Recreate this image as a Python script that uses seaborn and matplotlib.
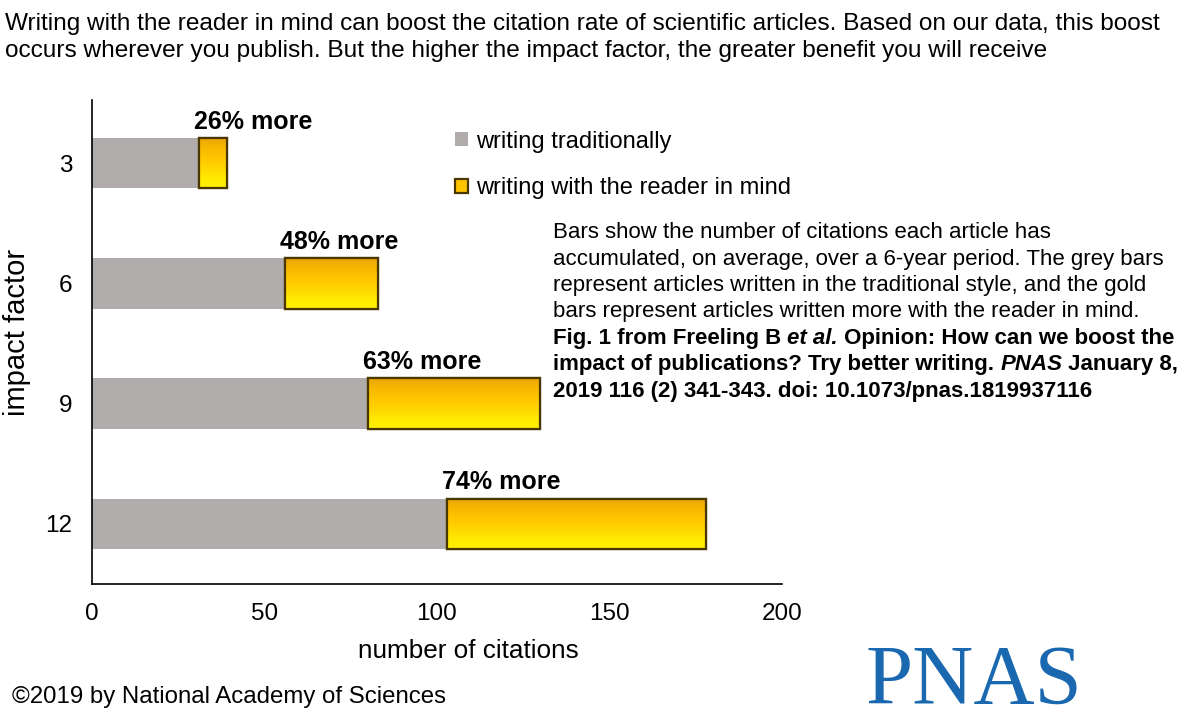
import numpy as np
import pandas as pd
import matplotlib
matplotlib.use("Agg")
import matplotlib.pyplot as plt
import seaborn as sns
from matplotlib.colors import LinearSegmentedColormap
from matplotlib.patches import Rectangle

# ---------------- data ----------------
impact_factor = ["3", "6", "9", "12"]
traditional = [31, 56, 80, 103]
reader_in_mind = [39, 83, 130, 178]
pct_more = [26, 48, 63, 74]
x_ticks = [0, 50, 100, 150, 200]

title_lines = [
    "Writing with the reader in mind can boost the citation rate of scientific articles. Based on our data, this boost",
    "occurs wherever you publish. But the higher the impact factor, the greater benefit you will receive",
]
note_regular = [
    "Bars show the number of citations each article has",
    "accumulated, on average, over a 6-year period. The grey bars",
    "represent articles written in the traditional style, and the gold",
    "bars represent articles written more with the reader in mind.",
]
note_bold = [
    [("Fig. 1 from Freeling B ", "normal"), ("et al.", "italic"), (" Opinion: How can we boost the", "normal")],
    [("impact of publications? Try better writing. ", "normal"), ("PNAS", "italic"), (" January 8,", "normal")],
    [("2019 116 (2) 341-343. doi: 10.1073/pnas.1819937116", "normal")],
]

GREY = "#B1ACAC"
GOLD = "#FFC400"
EDGE = "#4a3800"

sns.set_theme(style="white")
plt.rcParams["font.family"] = ["Liberation Sans", "DejaVu Sans"]
plt.rcParams["text.color"] = "black"
plt.rcParams["axes.labelcolor"] = "black"
plt.rcParams["xtick.color"] = "black"
plt.rcParams["ytick.color"] = "black"

W, H = 1200, 723
fig = plt.figure(figsize=(W / 100, H / 100), dpi=100)
fig.patch.set_facecolor("white")
ax = fig.add_axes([92 / W, 1 - 584 / H, 690 / W, 484 / H])

df = pd.DataFrame({"impact": impact_factor, "trad": traditional, "reader": reader_in_mind})
sns.barplot(data=df, y="impact", x="trad", orient="h", color=GREY, saturation=1,
            width=0.42, linewidth=0, ax=ax, label="writing traditionally", order=impact_factor)

pos = np.arange(len(impact_factor))
gold = ax.barh(pos, df["reader"] - df["trad"], left=df["trad"], height=0.42,
               color=GOLD, edgecolor=EDGE, linewidth=1.6,
               label="writing with the reader in mind", zorder=3)

handles, labels = ax.get_legend_handles_labels()
leg = ax.legend(handles=handles, labels=labels, loc="center left",
                bbox_to_anchor=(455 / W, 1 - 165 / H), bbox_transform=fig.transFigure,
                frameon=False, fontsize=17, handlelength=0.55, handleheight=0.55,
                handletextpad=0.35, labelspacing=1.05, borderpad=0, borderaxespad=0)

# bevel-like gradient on gold bars
cmap = LinearSegmentedColormap.from_list(
    "goldgrad", ["#E9A500", "#F8B800", "#FFC600", "#FFD400", "#FFEA00", "#FFF200"])
grad = np.linspace(0, 1, 64).reshape(-1, 1)
for rect in gold.patches:
    x0, y0, w, h = rect.get_x(), rect.get_y(), rect.get_width(), rect.get_height()
    im = ax.imshow(grad, cmap=cmap, extent=(x0, x0 + w, y0 + h, y0), origin="upper",
                   aspect="auto", zorder=3.5, interpolation="bicubic")
    im.set_clip_path(rect)
    ax.add_patch(Rectangle((x0, y0), w, h, fill=False, edgecolor=EDGE, linewidth=1.6, zorder=4))

for i, (t, p) in enumerate(zip(traditional, pct_more)):
    ax.text(t - 1.5, i - 0.245, f"{p}% more", ha="left", va="bottom", fontsize=18,
            weight="bold", color="black")

ax.set_xlim(0, 200)
ax.set_ylim(3.5, -0.524)
ax.set_xticks(x_ticks)
ax.set_xticklabels([str(v) for v in x_ticks])
ax.tick_params(axis="both", length=0, labelsize=17.5, pad=14, colors="black")
ax.set_xlabel("number of citations", fontsize=18.8, color="black")
ax.set_ylabel("impact factor", fontsize=21, color="black")
ax.xaxis.set_label_coords(0.545, -0.113)
ax.yaxis.set_label_coords(-0.088, 0.52)
for s in ["top", "right"]:
    ax.spines[s].set_visible(False)
for s in ["left", "bottom"]:
    ax.spines[s].set_color("black")
    ax.spines[s].set_linewidth(1.2)
ax.grid(False)

# ---------------- texts ----------------
def fx(x):
    return x / W

def fy(y):
    return 1 - y / H

fig.text(fx(5), fy(30), title_lines[0], fontsize=17.6, va="baseline", ha="left")
fig.text(fx(5), fy(57), title_lines[1], fontsize=17.6, va="baseline", ha="left")

renderer = fig.canvas.get_renderer()
y = 238
step = 26.5
for line in note_regular:
    fig.text(fx(553), fy(y), line, fontsize=16, va="baseline", ha="left")
    y += step
for segs in note_bold:
    x = 553
    for txt, style in segs:
        t = fig.text(fx(x), fy(y), txt, fontsize=16, weight="bold", style=style,
                     va="baseline", ha="left")
        x += t.get_window_extent(renderer).width
    y += step

fig.text(fx(12), fy(703), "\u00a92019 by National Academy of Sciences", fontsize=17.3,
         va="baseline", ha="left")
fig.text(fx(866), fy(704), "PNAS", fontsize=61, family="Liberation Serif",
         color="#1A68B0", va="baseline", ha="left")

fig.savefig("out.png", dpi=100, facecolor="white")
